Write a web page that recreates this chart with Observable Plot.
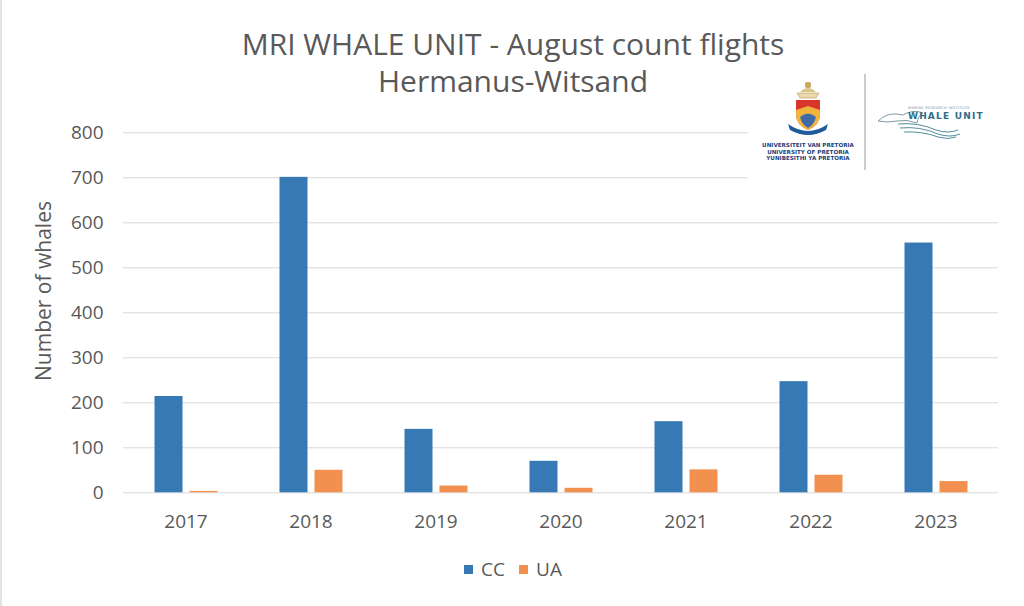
<!DOCTYPE html>
<html>
<head>
<meta charset="utf-8">
<script src="https://cdn.jsdelivr.net/npm/d3@7"></script>
<script src="https://cdn.jsdelivr.net/npm/@observablehq/plot@0.6"></script>
<style>
  html, body { margin: 0; padding: 0; background: #fff; }
  #root { position: relative; width: 1024px; height: 606px; overflow: hidden; font-family: "Open Sans", sans-serif; color: #595959; border-left: 2px solid #e4e4e4; box-sizing: border-box; }
  #title { position: absolute; left: 0; top: 25px; width: 1022px; text-align: center; font-size: 30px; line-height: 37px; color: #595959; }
  #chart { position: absolute; left: -2px; top: 110px; }
  #ylabel { position: absolute; left: 41px; top: 291px; transform: translate(-50%, -50%) rotate(-90deg); font-size: 21px; white-space: nowrap; color: #595959; }
  #legend { position: absolute; top: 556px; left: 0; width: 1022px; display: flex; justify-content: center; gap: 14px; font-size: 19px; color: #595959; }
  .item { display: flex; align-items: center; gap: 8px; }
  .sw { width: 9px; height: 9px; display: inline-block; }
  #logo { position: absolute; left: 746px; top: 70px; width: 260px; height: 115px; background: #fff; }
</style>
</head>
<body>
<div id="root">
  <div id="title">MRI WHALE UNIT - August count flights<br>Hermanus-Witsand</div>
  <div id="chart"></div>
  <div id="ylabel">Number of whales</div>
  <div id="logo">
    <svg width="260" height="115" viewBox="0 0 260 115">
      <g transform="translate(2,-70)">
        <!-- crest -->
        <path d="M50 92 q8 -8 16 0 z" fill="#d9c48e"/>
        <rect x="55" y="82" width="6" height="6" rx="2" fill="#c9a95a"/>
        <path d="M47 93 h22 l-3 5 h-16 z" fill="#ead9ac" stroke="#b59a4a" stroke-width="0.6"/>
        <path d="M46 100 h24 v14 q0 11 -12 16 q-12 -5 -12 -16 z" fill="#d9362b"/>
        <path d="M46 110 l12 -4 l12 4 v4 q0 11 -12 16 q-12 -5 -12 -16 z" fill="#f2b33d"/>
        <path d="M50 117 q8 -7 16 0 q-2 8 -8 11 q-6 -3 -8 -11 z" fill="#3f6aa8"/>
        <path d="M38 124 q20 14 40 0 l-2 6 q-18 10 -36 0 z" fill="#1f5a9a"/>
        <text x="58" y="147" font-size="5.6" font-weight="bold" fill="#1d3f7a" text-anchor="middle" font-family="DejaVu Sans">UNIVERSITEIT VAN PRETORIA</text>
        <text x="58" y="153.5" font-size="5.6" font-weight="bold" fill="#1d3f7a" text-anchor="middle" font-family="DejaVu Sans">UNIVERSITY OF PRETORIA</text>
        <text x="58" y="160" font-size="5.6" font-weight="bold" fill="#1d3f7a" text-anchor="middle" font-family="DejaVu Sans">YUNIBESITHI YA PRETORIA</text>
        <line x1="115" y1="74" x2="115" y2="170" stroke="#9a9a9a" stroke-width="1"/>
        <!-- whale unit -->
        <path d="M128 121 q10 -10 25 -6 q10 -6 20 -2 q-6 4 -6 10 q-10 -4 -20 -2 q-10 2 -19 0 z" fill="none" stroke="#6f8f9a" stroke-width="0.9"/>
        <path d="M148 124 q20 -2 38 6 q12 4 22 0" fill="none" stroke="#3f7f90" stroke-width="0.9"/>
        <path d="M150 128 q20 -2 38 6 q12 4 22 0" fill="none" stroke="#3f7f90" stroke-width="0.9"/>
        <path d="M154 132 q18 -1 34 5 q10 3 18 0" fill="none" stroke="#3f7f90" stroke-width="0.9"/>
        <text x="158" y="109" font-size="3.6" fill="#6f8f9a" font-family="DejaVu Sans" letter-spacing="0.3">MARINE RESEARCH INSTITUTE</text>
        <text x="158" y="119" font-size="9" font-weight="bold" fill="#2f7088" font-family="DejaVu Sans" letter-spacing="1.2">WHALE UNIT</text>
      </g>
    </svg>
  </div>
  <div id="legend"></div>
</div>
<script>
const years = ["2017", "2018", "2019", "2020", "2021", "2022", "2023"];
const series = ["CC", "UA"];
const ccValues = [214, 701, 141, 70, 158, 247, 555];
const uaValues = [3, 50, 15, 10, 51, 39, 25];
const yTicks = [0, 100, 200, 300, 400, 500, 600, 700, 800];
const colors = ["#3679B5", "#F2914F"];

const data = years.flatMap((yr, i) => [
  {year: yr, series: "CC", value: ccValues[i]},
  {year: yr, series: "UA", value: uaValues[i]}
]);

const chart = Plot.plot({
  width: 1024,
  height: 430,
  marginLeft: 122.5,
  marginRight: 26.5,
  marginTop: 22.3,
  marginBottom: 47.7,
  style: {fontFamily: "Open Sans, sans-serif", fontSize: "19px", color: "#595959", background: "transparent"},
  fx: {domain: years, padding: 0, label: null, tickSize: 0, tickPadding: 22},
  x: {domain: series, axis: null, paddingInner: 0.213, paddingOuter: 0.862},
  y: {domain: [0, 800]},
  color: {domain: series, range: colors},
  marks: [
    Plot.gridY(yTicks, {stroke: "#D9D9D9", strokeOpacity: 1, strokeWidth: 1}),
    Plot.axisY(yTicks, {tickSize: 0, tickPadding: 20, label: null, fill: "#595959"}),
    Plot.barY(data, {fx: "year", x: "series", y: "value", fill: "series"})
  ]
});
document.getElementById("chart").appendChild(chart);

const legend = document.getElementById("legend");
series.forEach((s, i) => {
  const item = document.createElement("div");
  item.className = "item";
  const sw = document.createElement("span");
  sw.className = "sw";
  sw.style.background = colors[i];
  const t = document.createElement("span");
  t.textContent = s;
  item.appendChild(sw);
  item.appendChild(t);
  legend.appendChild(item);
});
</script>
</body>
</html>
